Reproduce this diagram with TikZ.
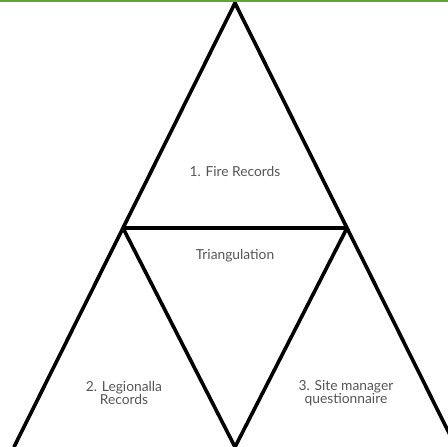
\documentclass[tikz,border=0pt]{standalone}
\usepackage{fontspec}
\setmainfont{Lato}
\definecolor{txtgray}{HTML}{555555}
\definecolor{topgreen}{HTML}{5DA63A}
\tikzset{
  edge/.style={line width=3.6pt, line join=miter, black},
  lbl/.style={text=txtgray, font=\fontsize{13.8}{13}\selectfont, align=center, inner sep=0pt}
}
\begin{document}
\begin{tikzpicture}[x=1pt,y=-1pt]
\useasboundingbox (0,0) rectangle (448,447);
\begin{scope}
\clip (0,0) rectangle (448,447);
\coordinate (A) at (235,3);
\coordinate (L) at (14,447);
\coordinate (R) at (456,447);
\coordinate (ML) at (123,228);
\coordinate (MR) at (347,228);
\coordinate (MB) at (235,447);
\draw[edge] (L) -- (A) -- (R);
\draw[edge] (ML) -- (MR);
\draw[edge] (ML) -- (MB) -- (MR);
\fill[topgreen] (0,0) rectangle (448,1.6);
\end{scope}
\node[lbl] (fire) at (235,171) {1. Fire Records};
\node[lbl] (tri) at (235,256) {Triangulation};
\node[lbl] (leg) at (124,393) {2. Legionalla\\Records};
\node[lbl] (site) at (346,393) {3. Site manager\\questionnaire};
\end{tikzpicture}
\end{document}
